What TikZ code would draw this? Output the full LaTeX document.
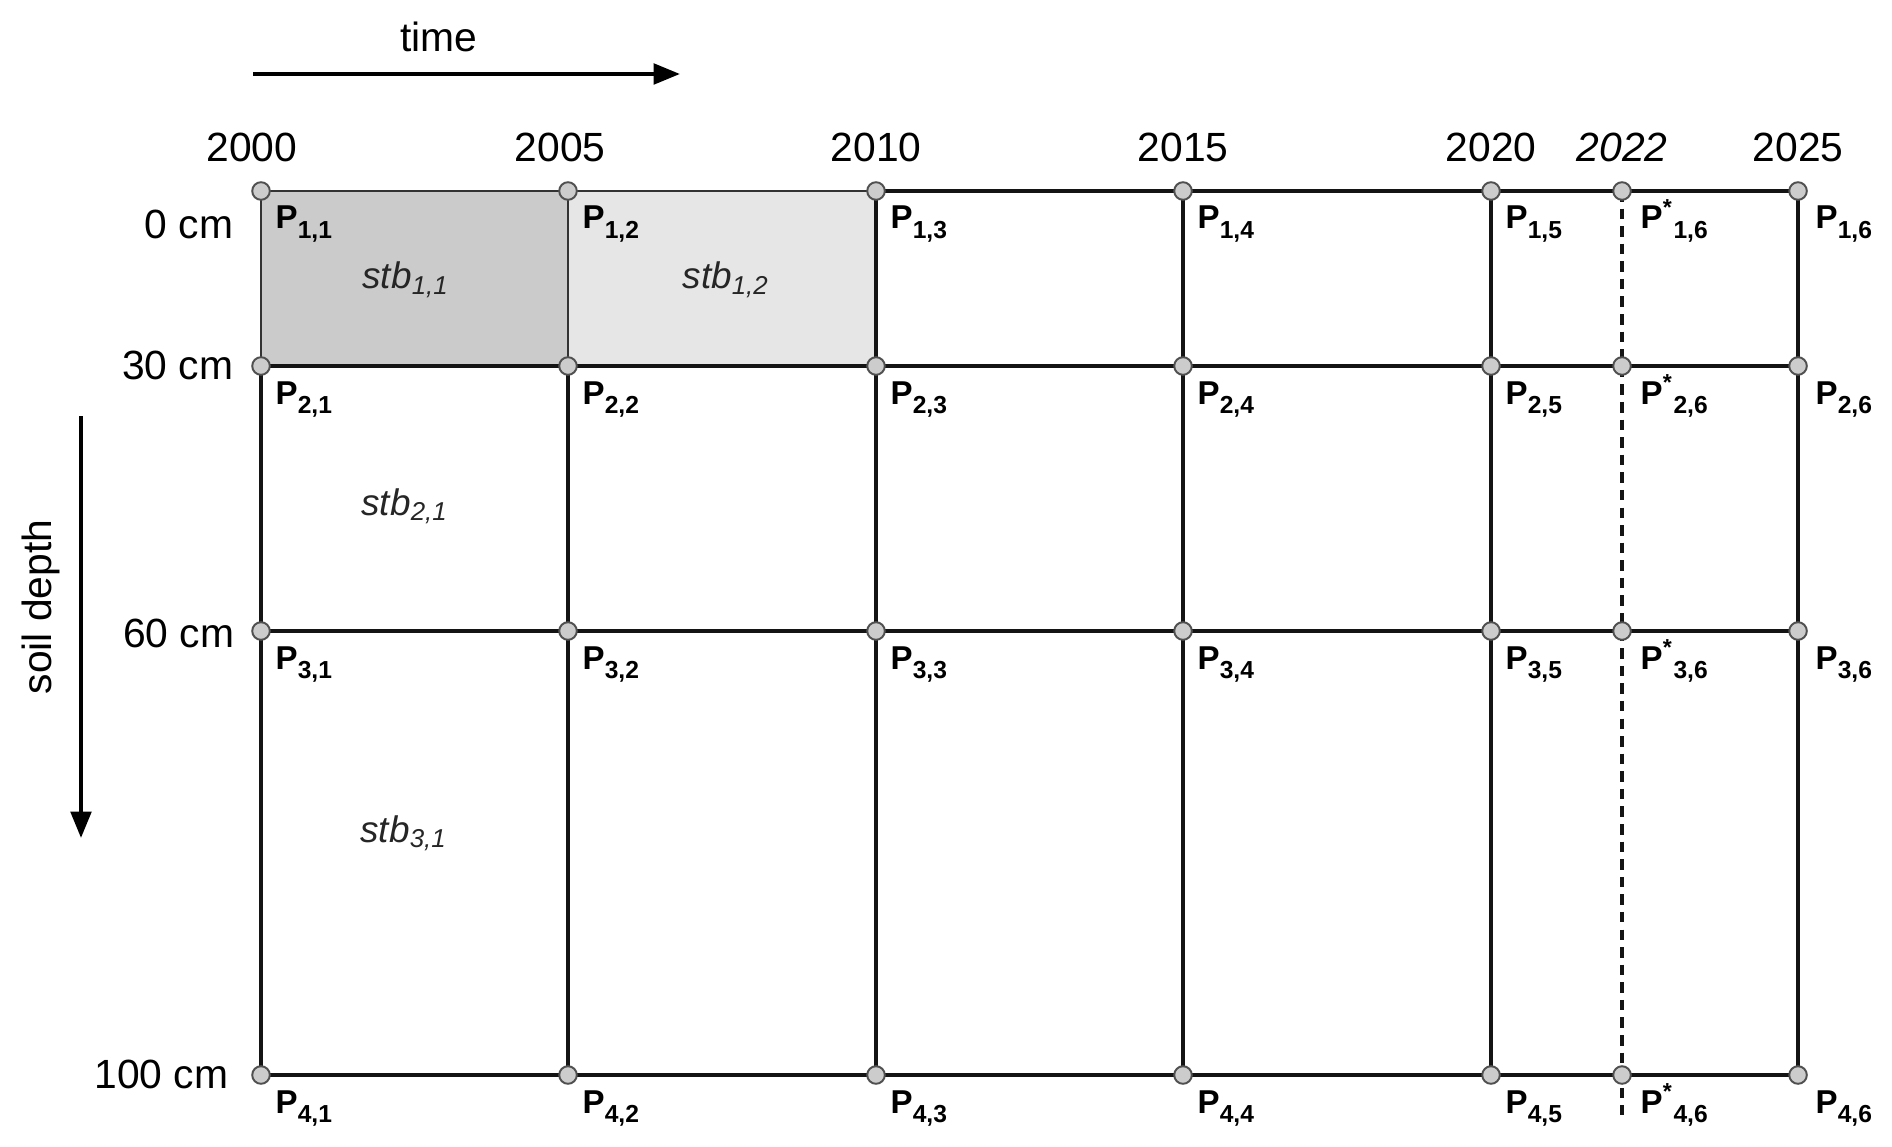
\documentclass[tikz,border=0pt]{standalone}
\usepackage{fontspec}
\setmainfont{Liberation Sans}
\usetikzlibrary{arrows.meta,calc}
\definecolor{cellA}{HTML}{CBCBCB}
\definecolor{cellB}{HTML}{E6E6E6}
\definecolor{ptfill}{HTML}{CCCCCC}
\definecolor{ptdraw}{HTML}{505050}
\newcommand{\psub}[1]{\raisebox{-2.6pt}{\fontsize{7}{8}\selectfont #1}}
\begin{document}
\begin{tikzpicture}[x=0.01cm,y=-0.01cm,
  gridline/.style={line width=1.15pt,black!92},
  boldline/.style={line width=1.35pt,black!92},
  thinline/.style={line width=0.65pt,black!80},
  topline/.style={line width=0.9pt,black!92},
  dashline/.style={line width=0.9pt,black!92,dash pattern=on 3pt off 2pt},
  pt/.style={circle,draw=ptdraw,fill=ptfill,line width=0.55pt,minimum size=5pt,inner sep=0pt},
  plab/.style={anchor=base west,inner sep=0pt,font=\fontsize{9.4}{10}\selectfont\bfseries},
  yr/.style={anchor=base,inner sep=0pt,font=\fontsize{11.6}{13}\selectfont},
  dep/.style={anchor=base east,inner sep=0pt,font=\fontsize{11.6}{13}\selectfont},
  stb/.style={anchor=base,inner sep=0pt,text=black!85,font=\fontsize{10.5}{12}\selectfont\itshape},
  axisarrow/.style={line width=1.15pt,-{Triangle[length=7.5pt,width=5.8pt]}}]
\useasboundingbox (0,0) rectangle (1892,1146);
% grid coordinates
\foreach \c/\x in {1/261,2/568,3/876,4/1183,5/1491,6/1622,7/1798}{
  \foreach \r/\y in {1/191,2/366,3/631,4/1075}{
    \coordinate (g\r\c) at (\x,\y);
  }
}
\coordinate (dashend) at (1622,1115);
% shaded cells
\fill[cellA] (g11) rectangle (g22);
\fill[cellB] (g12) rectangle (g23);
% horizontal lines
\draw[thinline] (g11) -- (g12) -- (g13);
\draw[topline] (g13) -- (g17);
\draw[boldline] (g21) -- (g27);
\draw[gridline] (g31) -- (g37);
\draw[gridline] (g41) -- (g47);
% vertical lines
\draw[thinline] (g11) -- (g21);
\draw[thinline] (g12) -- (g22);
\draw[gridline] (g21) -- (g41);
\draw[gridline] (g22) -- (g42);
\draw[boldline] (g13) -- (g43);
\draw[gridline] (g14) -- (g44);
\draw[boldline] (g15) -- (g45);
\draw[dashline] (g16) -- (dashend);
\draw[topline] (g17) -- (g47);
% points
\foreach \r in {1,...,4}{
  \foreach \c in {1,...,7}{
    \node[pt] (n\r\c) at (g\r\c) {};
  }
}
% point labels
\foreach \r in {1,...,4}{
  \foreach \c in {1,...,5}{
    \node[plab] (l\r\c) at ($(g\r\c)+(14,38)$) {P\psub{\r,\c}};
  }
  \node[plab] (l\r6) at ($(g\r6)+(18,38)$) {P\textsuperscript{*}\psub{\r,6}};
  \node[plab] (l\r7) at ($(g\r7)+(17,38)$) {P\psub{\r,6}};
}
% year labels
\node[yr] (y2000) at (252,162) {2000};
\node[yr] (y2005) at (560,162) {2005};
\node[yr] (y2010) at (876,162) {2010};
\node[yr] (y2015) at (1183,162) {2015};
\node[yr] (y2020) at (1491,162) {2020};
\node[yr] (y2022) at (1622,162) {\itshape 2022};
\node[yr] (y2025) at (1798,162) {2025};
% depth labels
\node[dep] (d0) at (234,239) {0 cm};
\node[dep] (d30) at (234,379) {30 cm};
\node[dep] (d60) at (235,647) {60 cm};
\node[dep] (d100) at (229,1088) {100 cm};
% cell labels
\node[stb] (s11) at (406,289) {stb\textsubscript{1,1}};
\node[stb] (s12) at (726,289) {stb\textsubscript{1,2}};
\node[stb] (s21) at (405,515) {stb\textsubscript{2,1}};
\node[stb] (s31) at (404,842) {stb\textsubscript{3,1}};
% axes
\coordinate (ta) at (253,74);
\coordinate (tb) at (680,74);
\draw[axisarrow] (ta) -- (tb);
\node[yr] (time) at (439,52) {time};
\coordinate (da) at (81,416);
\coordinate (db) at (81,838);
\draw[axisarrow] (da) -- (db);
\node[rotate=90,inner sep=0pt,font=\fontsize{11.6}{13}\selectfont] (soil) at (41,607) {soil depth};
\end{tikzpicture}
\end{document}
